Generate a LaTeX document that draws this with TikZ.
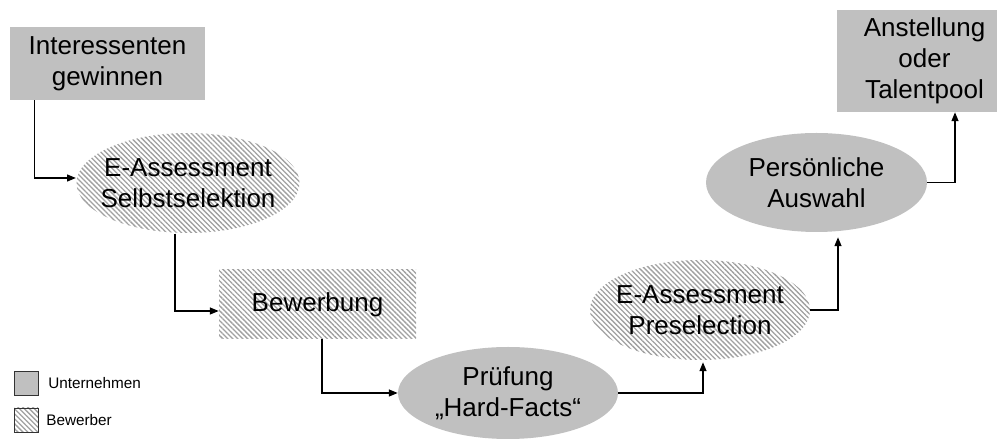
\documentclass[tikz,border=0pt]{standalone}
\usepackage{fontspec}
\setmainfont{Liberation Sans}
\usetikzlibrary{shapes.geometric,arrows.meta,patterns.meta,positioning,calc}
\definecolor{firmgray}{RGB}{192,192,192}
\definecolor{hatchgray}{RGB}{160,160,160}

\tikzset{
    firmbox/.style={rectangle, fill=firmgray, inner sep=0pt, align=center,
        font=\fontsize{14.8}{17.5}\selectfont},
    firmoval/.style={ellipse, fill=firmgray, inner xsep=-0.6cm, inner ysep=0pt, align=center,
        font=\fontsize{14.8}{17.5}\selectfont},
    applbox/.style={rectangle, pattern={Lines[angle=-45,distance=2pt,line width=0.75pt]},
        pattern color=hatchgray, inner sep=0pt, align=center,
        font=\fontsize{14.8}{17.5}\selectfont},
    applovalx/.style={ellipse, pattern={Lines[angle=-45,distance=2pt,line width=0.75pt]},
        pattern color=hatchgray, inner xsep=-0.6cm, inner ysep=0pt, align=center,
        font=\fontsize{14.8}{17.5}\selectfont},
    flow/.style={-{Triangle[length=5pt,width=4pt]}, line width=0.6pt},
    legendtext/.style={anchor=west, inner sep=0pt, font=\fontsize{8.7}{10}\selectfont}
}

\begin{document}
\begin{tikzpicture}
    \useasboundingbox (0,0) rectangle (19.94,8.78);

    % Process steps
    \node[firmbox, minimum width=3.9cm, minimum height=1.46cm] (gain) at (2.15,7.51)
        {Interessenten\\gewinnen};
    \node[applovalx, minimum width=4.46cm, minimum height=2cm] (self) at (3.76,5.12)
        {E-Assessment\\Selbstselektion};
    \node[applbox, minimum width=3.94cm, minimum height=1.38cm] (apply) at (6.35,2.69)
        {Bewerbung};
    \node[firmoval, minimum width=4.4cm, minimum height=1.84cm] (check) at (10.16,0.92)
        {Prüfung\\„Hard-Facts“};
    \node[applovalx, minimum width=4.4cm, minimum height=2cm] (presel) at (14.0,2.58)
        {E-Assessment\\Preselection};
    \node[firmoval, minimum width=4.42cm, minimum height=1.98cm] (choice) at (16.33,5.13)
        {Persönliche\\Auswahl};
    \node[firmbox, minimum width=3.2cm, minimum height=2.04cm] (hire) at (18.34,7.56)
        {\hspace*{0.3cm}Anstellung\\\hspace*{0.3cm}oder\\\hspace*{0.3cm}Talentpool};

    % Connectors
    \draw[flow] ([xshift=0.5cm]gain.south west) |- ([yshift=0.1cm]self.west);
    \draw[flow] ([xshift=-0.26cm]self.south) |- ([yshift=-0.13cm]apply.west);
    \draw[flow] ([xshift=0.09cm]apply.south) |- (check.west);
    \draw[flow] (check.east) -| ([xshift=0.06cm,yshift=-0.04cm]presel.south);
    \draw[flow] (presel.east) -| ([xshift=0.43cm,yshift=-0.1cm]choice.south);
    \draw[flow] (choice.east) -| ([xshift=0.76cm]hire.south);

    % Legend
    \node[draw=black!80, fill=firmgray, minimum size=0.48cm, inner sep=0pt] (keyfirm) at (0.52,1.12) {};
    \node[legendtext, right=0.44cm of keyfirm.center] (keyfirmtext) {Unternehmen};
    \node[draw=black!80, pattern={Lines[angle=-45,distance=2pt,line width=0.75pt]},
        pattern color=hatchgray, minimum size=0.48cm, inner sep=0pt] (keyappl) at (0.52,0.38) {};
    \node[legendtext, right=0.40cm of keyappl.center] (keyappltext) {Bewerber};
\end{tikzpicture}
\end{document}
